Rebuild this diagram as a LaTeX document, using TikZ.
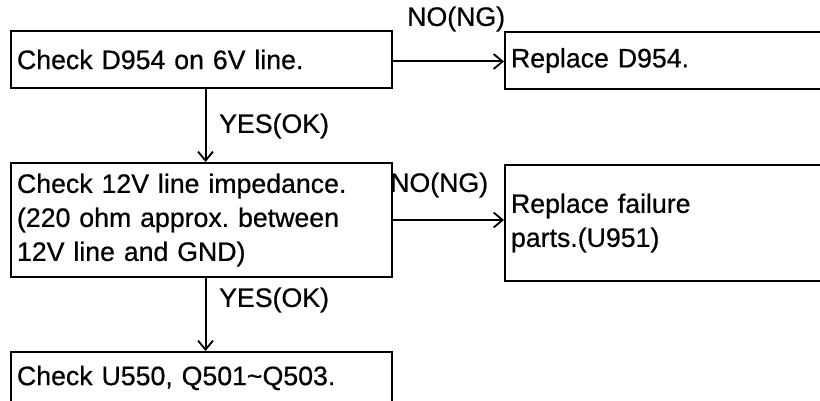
\documentclass[tikz,border=0pt]{standalone}
\usepackage{fontspec}
\setmainfont{Liberation Sans}[FakeBold=0.6]
\usetikzlibrary{arrows.meta,calc}
\tikzset{
  box/.style={draw=black, line width=2pt, rectangle, anchor=north west,
    align=left, inner xsep=6pt, inner ysep=0pt,
    font=\fontsize{26.7}{34}\selectfont\frenchspacing},
  lbl/.style={inner sep=0pt, font=\fontsize{26.7}{34}\selectfont},
  conn/.style={line width=2pt, -{Straight Barb[length=9pt,width=15pt,line width=1.8pt]}}
}
\begin{document}
\begin{tikzpicture}[x=1pt,y=-1pt]
\useasboundingbox (0,0) rectangle (820,401);
\clip (0,0) rectangle (820,401);
\node[box, text width=369pt, minimum height=57pt] (b1) at (10,30) {Check D954 on 6V line.};
\node[box, text width=369pt, minimum height=114pt] (b3) at (10,162) {Check 12V line impedance.\\(220 ohm approx. between\\12V line and GND)};
\node[box, text width=369pt, minimum height=52pt] (b5) at (10,351) {Check U550, Q501\char`\~Q503.};
\node[box, text width=336pt, minimum height=57pt] (b2) at (504,31) {Replace D954.};
\node[box, text width=336pt, minimum height=116pt] (b4) at (504,164) {Replace failure\\parts.(U951)};
\draw[conn] ([yshift=-2pt]b1.east) -- ([yshift=-2pt]b1.east -| b2.west);
\draw[conn] (b3.east) -- (b3.east -| b4.west);
\draw[conn] ([xshift=4pt]b1.south) -- ([xshift=4pt]b1.south |- b3.north);
\draw[conn] ([xshift=4pt]b3.south) -- ([xshift=4pt]b3.south |- b5.north);
\node[lbl, anchor=west] (n1) at (407,19) {NO(NG)};
\node[lbl, anchor=west] (n2) at (390,185) {NO(NG)};
\node[lbl, anchor=west] (y1) at (219,126) {YES(OK)};
\node[lbl, anchor=west] (y2) at (219,300) {YES(OK)};
\end{tikzpicture}
\end{document}
